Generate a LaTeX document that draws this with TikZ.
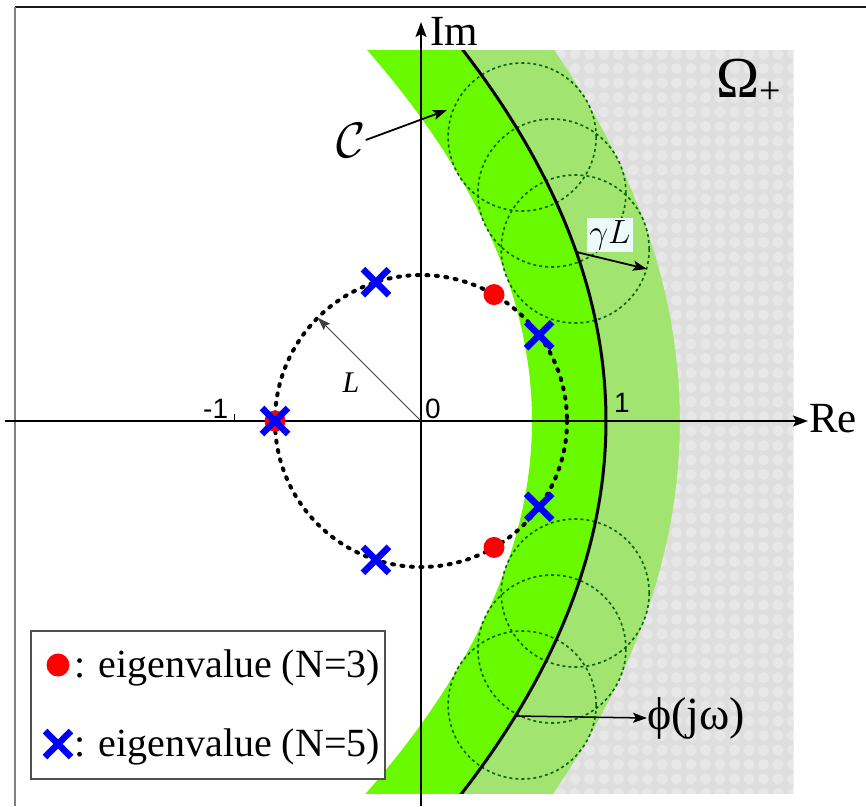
\documentclass[tikz,border=0pt]{standalone}
\usepackage{graphicx}
\usepackage{fontspec}
\setmainfont{Liberation Serif}
\newfontfamily\numfont{Liberation Sans}
\usetikzlibrary{arrows.meta}
\definecolor{brightgreen}{RGB}{106,250,0}
\definecolor{lightgreen}{RGB}{162,228,112}
\definecolor{graybase}{RGB}{222,222,222}
\definecolor{graydot}{RGB}{231,231,231}
\definecolor{circgreen}{RGB}{10,100,10}
\definecolor{gammabg}{RGB}{236,250,250}
\definecolor{legendgray}{RGB}{80,80,80}
\begin{document}
\begin{tikzpicture}[x=1pt,y=-1pt,
  declare function={cx(\uu,\dd)=606-10.4*\uu*\uu+\dd/sqrt(1+0.043264*\uu*\uu);
                    cy(\uu,\dd)=421-100*\uu-0.208*\uu*\dd/sqrt(1+0.043264*\uu*\uu);},
  axis/.style={line width=1.5, -{Stealth[length=15,width=11,inset=3]}},
  arr/.style={line width=1.8, -{Stealth[length=14,width=10,inset=3]}},
  tolcirc/.style={circgreen, line width=1.6, dash pattern=on 3 off 3},
  evdot/.style={circle, fill=red, minimum size=21, inner sep=0},
  bx/.pic={\draw[blue, line width=6.5] (-13,-13) -- (13,13) (-13,13) -- (13,-13);},
  lbl/.style={inner sep=0, font=\fontsize{43}{43}\selectfont},
  num/.style={inner sep=0, font=\numfont\fontsize{28}{28}\selectfont},
  legtext/.style={inner sep=0, anchor=base west, font=\fontsize{40}{40}\selectfont}]
\useasboundingbox (0,0) rectangle (866,806);
\fill[white] (0,0) rectangle (866,806);
% frame
\draw[line width=2, black!90] (15,7) -- (866,7);
\draw[line width=2, gray] (15,7) -- (15,806);
% bands
\begin{scope}
  \clip (0,50) rectangle (793,793);
  \fill[brightgreen] plot[variable=\uu,domain=-4.8:4.8,samples=121] ({cx(\uu,-74)},{cy(\uu,-74)}) -- (800,-100) -- (800,950) -- cycle;
  \fill[lightgreen] plot[variable=\uu,domain=-4.8:4.8,samples=121] ({cx(\uu,0)},{cy(\uu,0)}) -- (800,-100) -- (800,950) -- cycle;
  \begin{scope}
    \clip plot[variable=\uu,domain=-4.8:4.8,samples=121] ({cx(\uu,74)},{cy(\uu,74)}) -- (800,-100) -- (800,950) -- cycle;
    \fill[graybase] (0,0) rectangle (866,806);
    \foreach \gx in {0,...,25} \foreach \gy in {0,...,52}
      \fill[graydot] (430+14.5*\gx, 54+14.5*\gy) circle (5.5);
  \end{scope}
  % tolerance circles
  \foreach \cxx/\cyy in {575.2/249, 551.9/193, 522.1/137, 575.2/593, 551.9/649, 522.1/705}
    \draw[tolcirc] (\cxx,\cyy) circle (74);
  % Nyquist curve
  \draw[line width=3] plot[variable=\uu,domain=-3.8:3.8,samples=90] ({cx(\uu,0)},{cy(\uu,0)});
\end{scope}
% axes
\coordinate (O) at (421,421);
\coordinate (imtop) at (421,22);
\coordinate (imbot) at (421,806);
\coordinate (releft) at (5,421);
\coordinate (reright) at (808,421);
\draw[axis] (imbot) -- (imtop);
\draw[axis] (releft) -- (reright);
\coordinate (tickm1) at (234,421);
\coordinate (tickm1t) at (234,414);
\draw[line width=1] (tickm1) -- (tickm1t);
\node[lbl, anchor=base west] (im) at (430,45) {Im};
\node[lbl, anchor=base west] (re) at (809,432) {Re};
\node[num, anchor=base west] (n0) at (425,418) {0};
\node[num, anchor=base west] (nm1) at (203,418) {-1};
\node[num, anchor=base west] (n1) at (614,412) {1};
% circle of radius L
\draw[line width=4, dash pattern=on 2pt off 7.5pt, line cap=round] (O) circle (146);
\coordinate (Ltip) at ([shift={(225:146)}]O);
\draw[line width=1, black!75, -{Stealth[length=13,width=9,inset=2]}] (O) -- (Ltip);
\node[inner sep=0, font=\fontsize{30}{30}\selectfont\itshape] (Llab) at (351,383) {L};
% eigenvalues
\foreach \a in {60,180,300}
  \node[evdot] (ev3-\a) at ([shift={(\a:146)}]O) {};
\foreach \a in {36,108,180,252,324}
  \pic at ([shift={(\a:146)}]O) {bx};
% C label
\node[inner sep=0, font=\fontsize{24}{24}\selectfont] (Clab) at (351,140) {\scalebox{2}{$\mathcal{C}$}};
\coordinate (Ctip) at (447,110);
\draw[arr] (Clab.east) -- (Ctip);
% gamma L
\coordinate (gs) at ({cx(1.69,0)},{cy(1.69,0)});
\coordinate (ge) at (647,269);
\node[fill=gammabg, inner sep=2, font=\fontsize{24}{24}\selectfont] (gl) at (610,235) {\scalebox{1.35}{$\gamma L$}};
\draw[arr] (gs) -- (ge);
% phi(jw)
\coordinate (ps) at ({cx(-2.95,0)},{cy(-2.95,0)});
\node[inner sep=0, anchor=west, font=\fontsize{46}{46}\selectfont] (phi) at (647,718) {ϕ(jω)};
\draw[line width=1.5, -{Stealth[length=14,width=10,inset=3]}] (ps) -- (phi.west);
% Omega+
\node[inner sep=0, anchor=base west, font=\fontsize{58}{58}\selectfont] (om) at (716,97) {Ω};
\node[inner sep=0, anchor=base west, font=\fontsize{38}{38}\selectfont] (omp) at ([yshift=-6]om.base east) {+};
% legend
\node[draw=legendgray, line width=1.5, fill=white, anchor=north west, minimum width=354, minimum height=148, inner sep=0] (legend) at (30,630) {};
\node[evdot, minimum size=23] (legdot) at (58,665) {};
\node[legtext] (leg1) at (74,677) {: eigenvalue (N=3)};
\pic at (58,744) {bx};
\node[legtext] (leg2) at (74,756) {: eigenvalue (N=5)};
\end{tikzpicture}
\end{document}
